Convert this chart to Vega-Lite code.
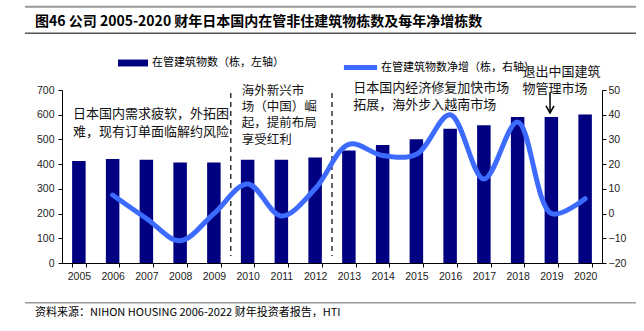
{
  "$schema": "https://vega.github.io/schema/vega-lite/v6.json",
  "autosize": "none",
  "width": 540,
  "height": 173,
  "padding": {"left": 62, "top": 90, "right": 42, "bottom": 68},
  "background": "white",
  "title": {
    "text": "图46 公司 2005-2020 财年日本国内在管非住建筑物栋数及每年净增栋数",
    "anchor": "start",
    "frame": "group",
    "orient": "top",
    "baseline": "bottom",
    "offset": -37,
    "dx": -27,
    "font": "Noto Sans CJK SC",
    "fontSize": 14,
    "fontWeight": "bold",
    "color": "#000000"
  },
  "config": {
    "view": {"stroke": null},
    "font": "Noto Sans CJK SC",
    "axis": {
      "labelFont": "Liberation Sans",
      "labelFontSize": 10.5,
      "labelColor": "#222222",
      "domainColor": "#000000",
      "tickColor": "#000000",
      "tickSize": 4,
      "grid": false,
      "title": null,
      "labelOverlap": false
    }
  },
  "datasets": {
    "fy": [
      {"year": "2005", "count": 413, "net": null},
      {"year": "2006", "count": 421, "net": 7.5},
      {"year": "2007", "count": 418, "net": -2},
      {"year": "2008", "count": 407, "net": -11},
      {"year": "2009", "count": 407, "net": 0},
      {"year": "2010", "count": 418, "net": 12},
      {"year": "2011", "count": 418, "net": -1},
      {"year": "2012", "count": 427, "net": 10},
      {"year": "2013", "count": 455, "net": 28},
      {"year": "2014", "count": 477, "net": 23.5},
      {"year": "2015", "count": 501, "net": 24},
      {"year": "2016", "count": 543, "net": 40},
      {"year": "2017", "count": 557, "net": 14},
      {"year": "2018", "count": 591, "net": 37},
      {"year": "2019", "count": 591, "net": 0},
      {"year": "2020", "count": 601, "net": 6}
    ]
  },
  "data": {"name": "fy"},
  "layer": [
    {
      "layer": [
        {
          "mark": {"type": "bar"},
          "encoding": {
            "x": {
              "field": "year", "type": "ordinal",
              "scale": {"paddingInner": 0.6, "paddingOuter": 0.3},
              "axis": {"title": null, "labelAngle": 0, "tickBand": "extent", "labelPadding": 4}
            },
            "y": {
              "field": "count", "type": "quantitative",
              "scale": {"domain": [0, 700], "nice": false, "zero": true},
              "axis": {"orient": "left", "title": null, "values": [0, 100, 200, 300, 400, 500, 600, 700], "labelPadding": 4, "labelOverlap": false}
            },
            "fill": {
              "datum": "在管建筑物数（栋，左轴）", "type": "nominal",
              "scale": {"range": ["#000080"]},
              "legend": {
                "title": null, "orient": "none", "legendX": 56, "legendY": -42, "padding": 0,
                "symbolType": "M-1,-0.23H1V0.23H-1Z", "symbolSize": 900, "symbolStrokeWidth": 0,
                "labelFont": "Noto Sans CJK SC", "labelFontSize": 11, "labelColor": "#000000", "labelOffset": 4
              }
            }
          }
        },
        {
          "data": {"values": [{"at": "2010"}, {"at": "2013"}]},
          "mark": {"type": "rule", "color": "#333333", "strokeWidth": 1.5, "strokeDash": [5, 4]},
          "encoding": {
            "x": {"field": "at", "type": "ordinal", "bandPosition": -0.75},
            "y": {"datum": 688, "type": "quantitative", "axis": {"orient": "left", "title": null, "values": [0, 100, 200, 300, 400, 500, 600, 700], "labelPadding": 4, "labelOverlap": false}},
            "y2": {"datum": 28}
          }
        },
        {
          "data": {"values": [{}]},
          "mark": {"type": "text", "align": "left", "baseline": "top", "fontSize": 13, "lineHeight": 18.7, "color": "#111111",
                   "text": ["日本国内需求疲软，外拓困", "难，现有订单面临解约风险"]},
          "encoding": {
            "x": {"datum": "2005", "type": "ordinal", "bandPosition": 0.07},
            "y": {"datum": 629, "type": "quantitative", "axis": {"orient": "left", "title": null, "values": [0, 100, 200, 300, 400, 500, 600, 700], "labelPadding": 4, "labelOverlap": false}}
          }
        },
        {
          "data": {"values": [{}]},
          "mark": {"type": "text", "align": "left", "baseline": "top", "fontSize": 12.5, "lineHeight": 16.2, "color": "#111111",
                   "text": ["海外新兴市", "场（中国）崛", "起，提前布局", "享受红利"]},
          "encoding": {
            "x": {"datum": "2010", "type": "ordinal", "bandPosition": 0.06},
            "y": {"datum": 720, "type": "quantitative", "axis": {"orient": "left", "title": null, "values": [0, 100, 200, 300, 400, 500, 600, 700], "labelPadding": 4, "labelOverlap": false}}
          }
        },
        {
          "data": {"values": [{}]},
          "mark": {"type": "text", "align": "left", "baseline": "top", "fontSize": 13, "lineHeight": 16.7, "color": "#111111",
                   "text": ["日本国内经济修复加快市场", "拓展，海外步入越南市场"]},
          "encoding": {
            "x": {"datum": "2013", "type": "ordinal", "bandPosition": 0.83},
            "y": {"datum": 733, "type": "quantitative", "axis": {"orient": "left", "title": null, "values": [0, 100, 200, 300, 400, 500, 600, 700], "labelPadding": 4, "labelOverlap": false}}
          }
        },
        {
          "data": {"values": [{}]},
          "mark": {"type": "text", "align": "left", "baseline": "top", "fontSize": 13, "lineHeight": 16.6, "color": "#111111",
                   "text": ["退出中国建筑", "物管理市场"]},
          "encoding": {
            "x": {"datum": "2018", "type": "ordinal", "bandPosition": 0.87},
            "y": {"datum": 796, "type": "quantitative", "axis": {"orient": "left", "title": null, "values": [0, 100, 200, 300, 400, 500, 600, 700], "labelPadding": 4, "labelOverlap": false}}
          }
        },
        {
          "data": {"values": [{}]},
          "mark": {"type": "rule", "color": "#000000", "strokeWidth": 1.5},
          "encoding": {
            "x": {"datum": "2019", "type": "ordinal", "bandPosition": 0.4},
            "y": {"datum": 688, "type": "quantitative", "axis": {"orient": "left", "title": null, "values": [0, 100, 200, 300, 400, 500, 600, 700], "labelPadding": 4, "labelOverlap": false}},
            "y2": {"datum": 608}
          }
        },
        {
          "data": {"values": [{}]},
          "mark": {"type": "point", "shape": "M-1,-1.8L0,0L1,-1.8", "filled": false, "stroke": "#000000", "strokeWidth": 1.5, "size": 64, "opacity": 1},
          "encoding": {
            "x": {"datum": "2019", "type": "ordinal", "bandPosition": 0.4},
            "y": {"datum": 607, "type": "quantitative", "axis": {"orient": "left", "title": null, "values": [0, 100, 200, 300, 400, 500, 600, 700], "labelPadding": 4, "labelOverlap": false}}
          }
        },
        {
          "data": {"values": [{"level": 1037}]},
          "mark": {"type": "rule", "color": "#999999", "strokeWidth": 2},
          "encoding": {
            "x": {"datum": "2005", "type": "ordinal", "bandPosition": -3.49},
            "x2": {"datum": "2020", "bandPosition": 4.27},
            "y": {"field": "level", "type": "quantitative", "axis": {"orient": "left", "title": null, "values": [0, 100, 200, 300, 400, 500, 600, 700], "labelPadding": 4, "labelOverlap": false}}
          }
        },
        {
          "data": {"values": [{"level": 930}]},
          "mark": {"type": "rule", "color": "#000000", "strokeWidth": 1},
          "encoding": {
            "x": {"datum": "2005", "type": "ordinal", "bandPosition": -3.49},
            "x2": {"datum": "2020", "bandPosition": 4.27},
            "y": {"field": "level", "type": "quantitative", "axis": {"orient": "left", "title": null, "values": [0, 100, 200, 300, 400, 500, 600, 700], "labelPadding": 4, "labelOverlap": false}}
          }
        },
        {
          "data": {"values": [{"level": -161}]},
          "mark": {"type": "rule", "color": "#999999", "strokeWidth": 1.5},
          "encoding": {
            "x": {"datum": "2005", "type": "ordinal", "bandPosition": -3.49},
            "x2": {"datum": "2020", "bandPosition": 4.27},
            "y": {"field": "level", "type": "quantitative", "axis": {"orient": "left", "title": null, "values": [0, 100, 200, 300, 400, 500, 600, 700], "labelPadding": 4, "labelOverlap": false}}
          }
        },
        {
          "data": {"values": [{}]},
          "mark": {"type": "text", "align": "left", "baseline": "middle", "fontSize": 11, "color": "#000000",
                   "text": "资料来源：NIHON HOUSING 2006-2022 财年投资者报告，HTI"},
          "encoding": {
            "x": {"datum": "2005", "type": "ordinal", "bandPosition": -2.75},
            "y": {"datum": -204, "type": "quantitative", "axis": {"orient": "left", "title": null, "values": [0, 100, 200, 300, 400, 500, 600, 700], "labelPadding": 4, "labelOverlap": false}}
          }
        }
      ]
    },
    {
      "mark": {"type": "line", "interpolate": "catmull-rom", "strokeWidth": 5, "strokeCap": "round"},
      "encoding": {
        "x": {"field": "year", "type": "ordinal"},
        "y": {
          "field": "net", "type": "quantitative",
          "scale": {"domain": [-20, 50], "nice": false, "zero": false},
          "axis": {"orient": "right", "title": null, "values": [-20, -10, 0, 10, 20, 30, 40, 50], "labelPadding": 2, "labelOverlap": false}
        },
        "stroke": {
          "datum": "在管建筑物数净增（栋，右轴）", "type": "nominal",
          "scale": {"range": ["#3D6BFF"]},
          "legend": {
            "title": null, "orient": "none", "legendX": 279, "legendY": -42, "padding": 0,
            "symbolType": "stroke", "symbolSize": 1100, "symbolStrokeWidth": 5,
            "labelFont": "Noto Sans CJK SC", "labelFontSize": 11, "labelColor": "#000000", "labelOffset": 1
          }
        }
      }
    }
  ],
  "resolve": {"scale": {"y": "independent"}}
}
